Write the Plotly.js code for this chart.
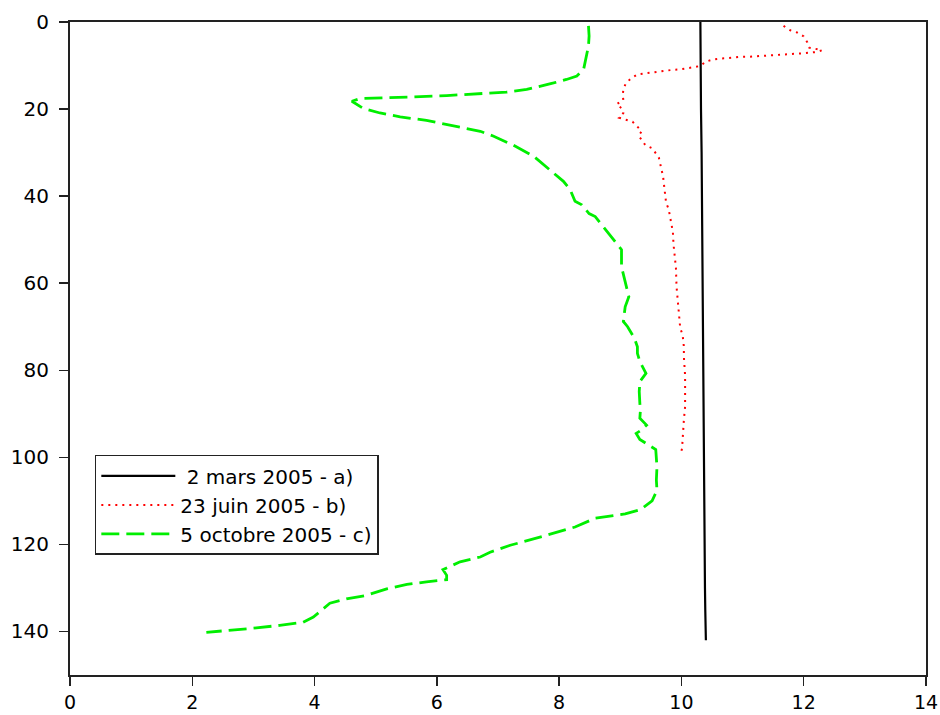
<!DOCTYPE html>
<html>
<head>
<meta charset="utf-8">
<script src="https://cdn.plot.ly/plotly-3.0.1.min.js"></script>
<style>html,body{margin:0;padding:0;background:#fff;}</style>
</head>
<body>
<div id="chart" style="width:940px;height:715px;"></div>
<script>
// Series names
const seriesNames = [" 2 mars 2005 - a)", "23 juin 2005 - b)", "5 octobre 2005 - c)"];

// 2 mars 2005 (value, depth)
const marsX = [10.31, 10.31, 10.32, 10.32, 10.33, 10.335, 10.34, 10.34, 10.35, 10.35, 10.355, 10.36, 10.37, 10.375, 10.385, 10.39, 10.395, 10.40];
const marsY = [0, 5, 10, 20, 30, 40, 50, 60, 70, 80, 90, 100, 110, 120, 130, 135, 140, 142];

// 23 juin 2005
const juinX = [11.67, 11.78, 11.89, 12.0, 12.06, 12.09, 12.17, 12.3, 12.2, 12.09, 11.98, 11.86, 11.76, 11.64, 11.53, 11.42, 11.3, 11.2, 11.08, 10.97, 10.86, 10.75, 10.63, 10.52, 10.4, 10.31, 10.19, 10.08, 9.97, 9.85, 9.74, 9.63, 9.51, 9.41, 9.29, 9.18, 9.09, 9.05, 9.04, 9.05, 8.94, 9.03, 9.05, 8.98, 9.09, 9.2, 9.27, 9.35, 9.30, 9.35, 9.41, 9.52, 9.57, 9.63, 9.66, 9.70, 9.72, 9.75, 9.79, 9.81, 9.83, 9.85, 9.86, 9.87, 9.89, 9.91, 9.92, 9.94, 9.96, 9.98, 10.02, 10.04, 10.04, 10.06, 10.06, 10.06, 10.04, 10.03, 10.01, 9.98];
const juinY = [0.9, 1.9, 2.4, 3.3, 4.7, 5.9, 6.1, 6.5, 6.9, 7.1, 7.2, 7.3, 7.4, 7.5, 7.6, 7.7, 7.7, 7.9, 8.0, 8.0, 8.2, 8.3, 8.4, 8.6, 9.1, 10.1, 10.4, 10.7, 10.9, 11.0, 11.2, 11.3, 11.5, 11.7, 12.0, 12.9, 14.1, 15.5, 16.9, 17.9, 18.9, 19.9, 20.9, 22.0, 22.5, 22.9, 23.9, 25.1, 26.1, 27.1, 28.3, 29.0, 30.0, 31.1, 33, 35.5, 38, 41.6, 42.9, 44.5, 45.8, 47, 48.2, 51, 53.9, 56.5, 60.8, 63.5, 66.1, 70.3, 71.9, 74.6, 76.9, 81.2, 84.5, 88.4, 91.4, 94.5, 98, 99.5];

// 5 octobre 2005
const octX = [8.48, 8.49, 8.48, 8.44, 8.40, 8.29, 8.12, 7.91, 7.69, 7.47, 7.14, 6.71, 6.16, 5.61, 5.07, 4.74, 4.61, 4.80, 5.07, 5.40, 5.83, 6.27, 6.71, 6.92, 7.25, 7.58, 7.80, 8.07, 8.18, 8.26, 8.37, 8.49, 8.59, 8.70, 8.83, 8.94, 9.02, 9.02, 9.08, 9.11, 9.14, 9.08, 9.05, 9.12, 9.23, 9.28, 9.28, 9.32, 9.42, 9.32, 9.31, 9.32, 9.33, 9.32, 9.43, 9.35, 9.26, 9.32, 9.46, 9.58, 9.60, 9.59, 9.60, 9.52, 9.33, 9.08, 8.59, 8.26, 7.77, 7.2, 6.87, 6.71, 6.38, 6.10, 6.16, 6.16, 5.83, 5.51, 5.18, 4.85, 4.52, 4.25, 4.14, 3.98, 3.81, 3.43, 2.89, 2.23];
const octY = [0.9, 3.2, 5.5, 8.6, 10.9, 12.4, 13.2, 14.0, 14.7, 15.5, 16.1, 16.5, 16.9, 17.2, 17.5, 17.6, 18.2, 19.9, 20.9, 21.8, 22.6, 23.8, 25.1, 26.2, 28.3, 30.8, 33.5, 36.6, 38.5, 41.2, 42, 44, 44.7, 46.6, 48.9, 50.8, 52.3, 56.2, 60, 61.1, 63.1, 65.4, 68.8, 70, 72.6, 74.6, 76.1, 78, 80.7, 82.6, 84.9, 87.6, 89.1, 91, 92.6, 93.7, 94.5, 95.9, 97.2, 98.2, 102.2, 105.2, 107.6, 110, 112, 113, 114, 116, 118, 120.2, 121.8, 122.9, 124, 125.8, 127.1, 128.1, 128.6, 129.2, 130.2, 131.7, 132.5, 133.5, 134.8, 136.7, 137.9, 138.6, 139.4, 140.2];

// Axis ticks
const xTicks = [0, 2, 4, 6, 8, 10, 12, 14];
const yTicks = [0, 20, 40, 60, 80, 100, 120, 140];

const font = {family: "DejaVu Sans, sans-serif", size: 20, color: "#000"};
const xFont = {family: "DejaVu Sans, sans-serif", size: 19, color: "#000"};

const traces = [
  {x: marsX, y: marsY, name: seriesNames[0], mode: "lines", type: "scatter",
   line: {color: "#000000", width: 2.2, dash: "solid"}},
  {x: juinX, y: juinY, name: seriesNames[1], mode: "lines", type: "scatter",
   line: {color: "#ff0000", width: 2, dash: "2px,5px"}},
  {x: octX, y: octY, name: seriesNames[2], mode: "lines", type: "scatter",
   line: {color: "#00ee00", width: 2.8, dash: "18px,7px"}}
];

const layout = {
  width: 940, height: 715,
  margin: {l: 70, r: 14, t: 22, b: 40},
  paper_bgcolor: "#fff", plot_bgcolor: "#fff",
  font: font,
  showlegend: true,
  legend: {
    x: 0.029, y: 0.337, xanchor: "left", yanchor: "top",
    bgcolor: "#fff", bordercolor: "#222", borderwidth: 1.5,
    font: font, itemwidth: 74, tracegroupgap: 0
  },
  xaxis: {
    range: [0, 14], tickvals: xTicks, ticktext: xTicks.map(String),
    showgrid: false, zeroline: false, showline: true, mirror: true,
    linecolor: "#222", linewidth: 2, ticks: "outside", ticklen: 9, tickwidth: 1.5, tickcolor: "#222",
    tickfont: xFont, ticklabelstandoff: 0
  },
  yaxis: {
    range: [150, 0], tickvals: yTicks, ticktext: yTicks.map(String),
    showgrid: false, zeroline: false, showline: true, mirror: true,
    linecolor: "#222", linewidth: 2, ticks: "outside", ticklen: 9, tickwidth: 1.5, tickcolor: "#222",
    tickfont: font, ticklabelstandoff: 6
  }
};

Plotly.newPlot("chart", traces, layout, {displayModeBar: false, staticPlot: true});
</script>
</body>
</html>
